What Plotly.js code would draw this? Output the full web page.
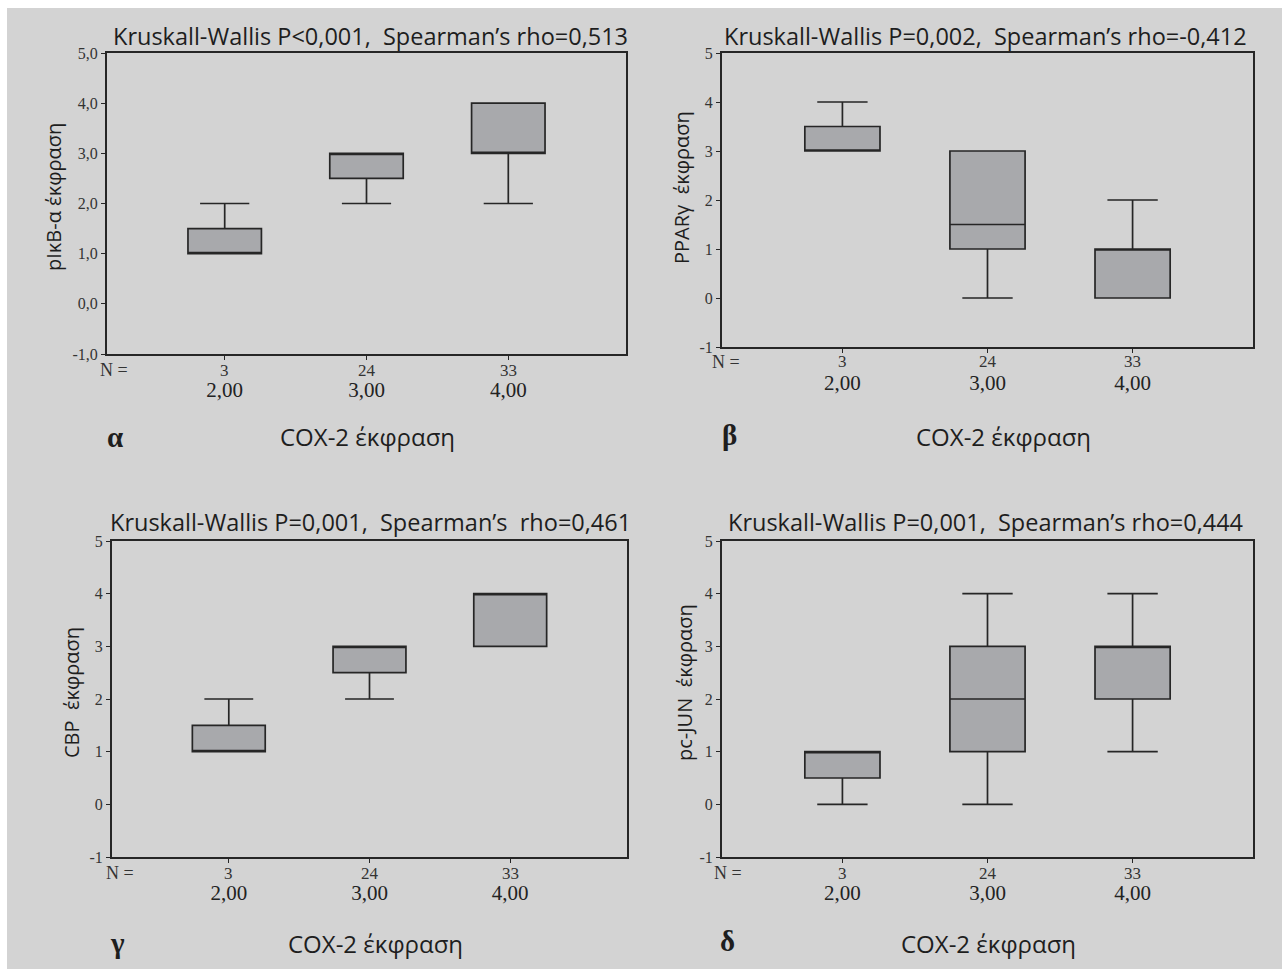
<!DOCTYPE html>
<html>
<head>
<meta charset="utf-8">
<script src="https://cdn.plot.ly/plotly-3.0.1.min.js"></script>
<style>
html,body{margin:0;padding:0;background:#ffffff;}
#chart{position:absolute;left:7px;top:8px;width:1275px;height:961px;}
</style>
</head>
<body>
<div id="chart"></div>
<script>
// ---- data ----
const categories = ['2,00', '3,00', '4,00'];
const nCounts = ['3', '24', '33'];
const xLabel = 'COX-2 έκφραση';

const titlesText = [
  'Kruskall-Wallis P&lt;0,001,  Spearman’s rho=0,513',
  'Kruskall-Wallis P=0,002,  Spearman’s rho=-0,412',
  'Kruskall-Wallis P=0,001,  Spearman’s  rho=0,461',
  'Kruskall-Wallis P=0,001,  Spearman’s rho=0,444'
];
const panelLetters = ['α', 'β', 'γ', 'δ'];
const yTitles = ['pIκB-α έκφραση', 'PPARγ  έκφραση', 'CBP  έκφραση', 'pc-JUN  έκφραση'];

const yTickVals = [-1, 0, 1, 2, 3, 4, 5];
const yTickTextA = ['-1,0', '0,0', '1,0', '2,0', '3,0', '4,0', '5,0'];
const yTickTextB = ['-1', '0', '1', '2', '3', '4', '5'];

// pIκB-α
const a_q1 = [1, 2.5, 3];
const a_med = [1, 3, 3];
const a_q3 = [1.5, 3, 4];
const a_lo = [1, 2, 2];
const a_hi = [2, 3, 4];
// PPARγ
const b_q1 = [3, 1, 0];
const b_med = [3, 1.5, 1];
const b_q3 = [3.5, 3, 1];
const b_lo = [3, 0, 0];
const b_hi = [4, 3, 2];
// CBP
const c_q1 = [1, 2.5, 3];
const c_med = [1, 3, 4];
const c_q3 = [1.5, 3, 4];
const c_lo = [1, 2, 3];
const c_hi = [2, 3, 4];
// pc-JUN
const d_q1 = [0.5, 1, 2];
const d_med = [1, 2, 3];
const d_q3 = [1, 3, 3];
const d_lo = [0, 0, 1];
const d_hi = [1, 4, 4];

// ---- layout geometry (page pixels) ----
const OX = 7, OY = 8, W = 1275, H = 961;
const px = x => (x - OX) / W;
const py = y => 1 - (y - OY) / H;

const frames = [
  {l: 107, r: 626, t: 53, b: 354},
  {l: 722, r: 1253, t: 53, b: 347},
  {l: 112, r: 627, t: 541, b: 857},
  {l: 722, r: 1253, t: 541, b: 857}
];
const titlePos = [[370, 36], [985, 36], [370, 522], [985, 522]];
const letterPos = [[115, 437], [729, 435], [118, 943], [728, 941]];
const xLabPos = [[367, 437], [1003, 437], [375, 943], [988, 943]];
const yTitlePos = [[54, 197], [681, 188], [71, 693], [684, 683]];
const nEqPos = [[98, 370], [710, 362], [104, 873], [712, 873]];

const seriesData = [
  [a_q1, a_med, a_q3, a_lo, a_hi],
  [b_q1, b_med, b_q3, b_lo, b_hi],
  [c_q1, c_med, c_q3, c_lo, c_hi],
  [d_q1, d_med, d_q3, d_lo, d_hi]
];

const BG = '#d3d3d3';
const LINE = '#262626';
const BOXFILL = '#a8a9ac';
const serif = 'Liberation Serif, Times New Roman, serif';
const sans = 'Open Sans, Noto Sans, sans-serif';

const traces = [];
const layout = {
  width: W, height: H,
  margin: {l: 0, r: 0, t: 0, b: 0},
  paper_bgcolor: BG,
  plot_bgcolor: BG,
  showlegend: false,
  boxgap: 0.26,
  annotations: [],
  font: {family: serif, color: '#222'}
};

seriesData.forEach((s, i) => {
  const n = i + 1;
  const xa = n === 1 ? 'x' : 'x' + n;
  const ya = n === 1 ? 'y' : 'y' + n;
  traces.push({
    type: 'box',
    x: [0, 1, 2],
    q1: s[0], median: s[1], q3: s[2], lowerfence: s[3], upperfence: s[4],
    xaxis: xa, yaxis: ya,
    fillcolor: BOXFILL,
    line: {color: LINE, width: 1.7},
    whiskerwidth: 0.67,
    hoverinfo: 'skip'
  });
  const f = frames[i];
  layout['xaxis' + (n === 1 ? '' : n)] = {
    domain: [px(f.l), px(f.r)],
    anchor: ya,
    range: [-0.83, 2.83],
    tickvals: [0, 1, 2],
    ticktext: categories,
    ticks: 'outside', ticklen: 4, tickwidth: 1, tickcolor: LINE,
    ticklabelstandoff: 12,
    tickfont: {family: serif, size: 21, color: '#222'},
    showline: true, mirror: true, linecolor: LINE, linewidth: 2,
    showgrid: false, zeroline: false, fixedrange: true
  };
  layout['yaxis' + (n === 1 ? '' : n)] = {
    domain: [py(f.b), py(f.t)],
    anchor: xa,
    range: [-1, 5],
    tickvals: yTickVals,
    ticktext: i === 0 ? yTickTextA : yTickTextB,
    ticks: 'outside', ticklen: 4, tickwidth: 1, tickcolor: LINE,
    tickfont: {family: serif, size: 16, color: '#333'},
    showline: true, mirror: true, linecolor: LINE, linewidth: 2,
    showgrid: false, zeroline: false, fixedrange: true
  };
  const A = layout.annotations;
  A.push({xref: 'paper', yref: 'paper', x: px(titlePos[i][0]), y: py(titlePos[i][1]),
    xanchor: 'center', yanchor: 'middle', showarrow: false, text: titlesText[i],
    font: {family: sans, size: 23.5, color: '#1e1e1e'}});
  A.push({xref: 'paper', yref: 'paper', x: px(letterPos[i][0]), y: py(letterPos[i][1]),
    xanchor: 'center', yanchor: 'middle', showarrow: false, text: '<b>' + panelLetters[i] + '</b>',
    font: {family: serif, size: 29, color: '#1e1e1e'}});
  A.push({xref: 'paper', yref: 'paper', x: px(xLabPos[i][0]), y: py(xLabPos[i][1]),
    xanchor: 'center', yanchor: 'middle', showarrow: false, text: xLabel,
    font: {family: sans, size: 24, color: '#1e1e1e'}});
  A.push({xref: 'paper', yref: 'paper', x: px(yTitlePos[i][0]), y: py(yTitlePos[i][1]),
    xanchor: 'center', yanchor: 'middle', showarrow: false, text: yTitles[i], textangle: -90,
    font: {family: sans, size: 20, color: '#1e1e1e'}});
  A.push({xref: 'paper', yref: 'paper', x: px(nEqPos[i][0]), y: py(nEqPos[i][1]),
    xanchor: 'left', yanchor: 'middle', showarrow: false, text: 'N =',
    font: {family: serif, size: 18, color: '#333'}});
  nCounts.forEach((c, k) => {
    A.push({xref: xa, yref: 'paper', x: k, y: py(nEqPos[i][1]),
      xanchor: 'center', yanchor: 'middle', showarrow: false, text: c,
      font: {family: serif, size: 17, color: '#333'}});
  });
});

Plotly.newPlot('chart', traces, layout, {staticPlot: true, displayModeBar: false});
</script>
</body>
</html>
